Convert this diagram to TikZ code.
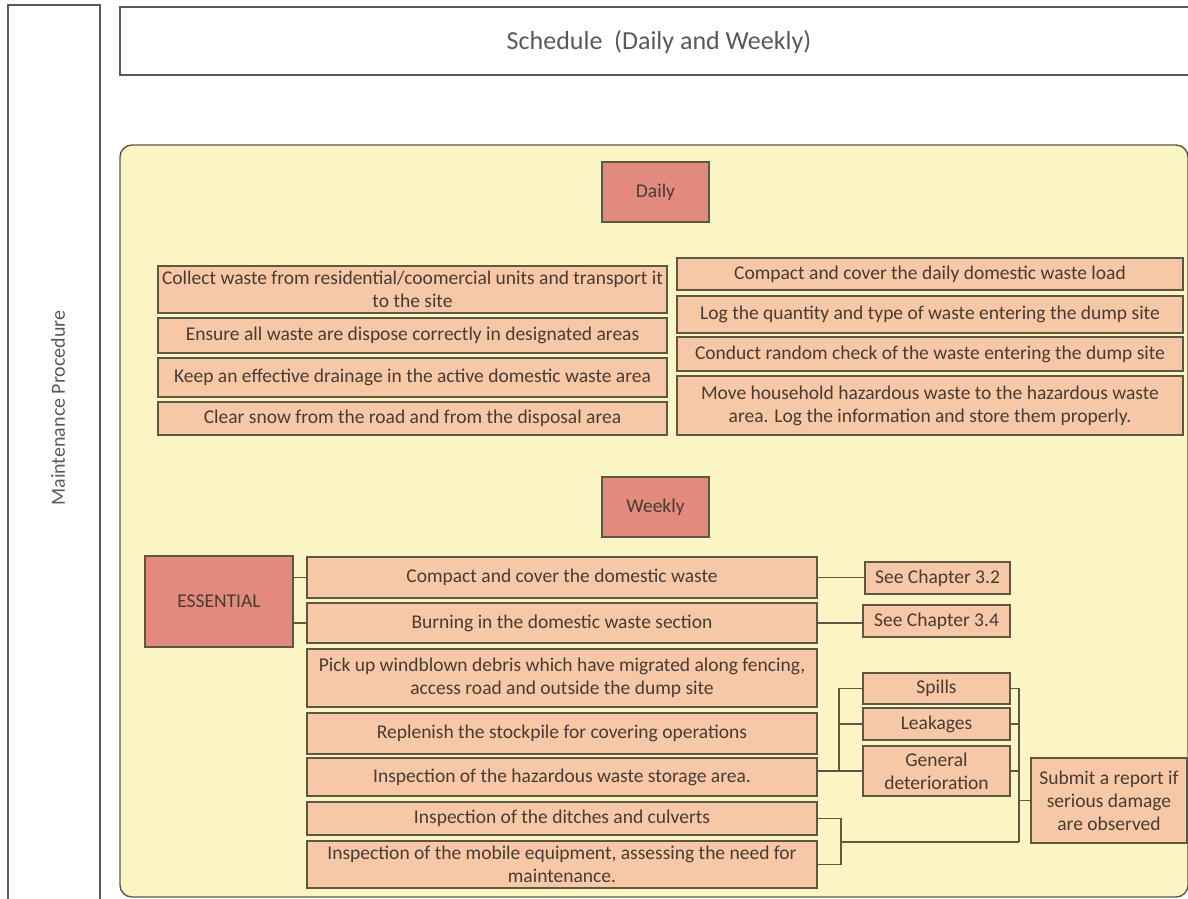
\documentclass[tikz,border=0pt]{standalone}
\usepackage{fontspec}
\setmainfont{Carlito}
\definecolor{panelfill}{HTML}{FBF5C6}
\definecolor{taskfill}{HTML}{F6C8A8}
\definecolor{headfill}{HTML}{E28A7E}
\definecolor{boxline}{HTML}{5E5843}
\definecolor{inktext}{HTML}{4A3B31}
\tikzset{
  task/.style={draw=boxline, line width=1.4pt, fill=taskfill, text=inktext, align=center, inner sep=0pt, font=\fontsize{19.5}{23}\selectfont},
  head/.style={draw=boxline, line width=1.4pt, fill=headfill, text=inktext, align=center, inner sep=0pt, font=\fontsize{19.5}{23}\selectfont},
  link/.style={draw=boxline, line width=1.4pt},
}
\begin{document}
\begin{tikzpicture}[x=1pt, y=-1pt]
  \useasboundingbox (0,0) rectangle (1188,898);
  % 1. frames
  \draw[gray!70!black, line width=1.2pt] (8,5) rectangle (100,905);
  \node[rotate=90, text=black!65, font=\fontsize{20}{24}\selectfont] (proc) at (58,408) {Maintenance Procedure};
  \draw[gray!70!black, line width=1.2pt] (120,7) rectangle (1200,75);
  \node[text=black!65, font=\fontsize{26}{30}\selectfont] (sched) at (659,42) {Schedule~~(Daily and Weekly)};
  \draw[boxline, line width=1.4pt, fill=panelfill, rounded corners=12pt] (120,145) rectangle (1188,897);

  % 2. daily
  \node[head, minimum width=107pt, minimum height=60pt] (daily) at (655.5,192) {Daily};
  \node[task, minimum width=509pt, minimum height=47pt] (d1) at (412.5,289.5) {Collect waste from residential/coomercial units and transport it\\to the site};
  \node[task, minimum width=509pt, minimum height=35pt] (d2) at (412.5,335.5) {Ensure all waste are dispose correctly in designated areas};
  \node[task, minimum width=509pt, minimum height=39pt] (d3) at (412.5,377.5) {Keep an effective drainage in the active domestic waste area};
  \node[task, minimum width=509pt, minimum height=33pt] (d4) at (412.5,418.5) {Clear snow from the road and from the disposal area};
  \node[task, minimum width=506pt, minimum height=32pt] (r1) at (930,274) {Compact and cover the daily domestic waste load};
  \node[task, minimum width=506pt, minimum height=37pt] (r2) at (930,314.5) {Log the quantity and type of waste entering the dump site};
  \node[task, minimum width=506pt, minimum height=34pt] (r3) at (930,354) {Conduct random check of the waste entering the dump site};
  \node[task, minimum width=506pt, minimum height=59pt] (r4) at (930,405.5) {Move household hazardous waste to the hazardous waste\\area. Log the information and store them properly.};

  % 3. weekly
  \node[head, minimum width=107pt, minimum height=60pt] (weekly) at (655.5,507) {Weekly};
  \node[head, minimum width=148pt, minimum height=91pt] (ess) at (219,601.5) {ESSENTIAL};
  \node[task, minimum width=510pt, minimum height=41pt] (w1) at (562,577.5) {Compact and cover the domestic waste};
  \node[task, minimum width=510pt, minimum height=40pt] (w2) at (562,623) {Burning in the domestic waste section};
  \node[task, minimum width=510pt, minimum height=58pt] (w3) at (562,678) {Pick up windblown debris which have migrated along fencing,\\access road and outside the dump site};
  \node[task, minimum width=510pt, minimum height=41pt] (w4) at (562,733.5) {Replenish the stockpile for covering operations};
  \node[task, minimum width=510pt, minimum height=38pt] (w5) at (562,777) {Inspection of the hazardous waste storage area.};
  \node[task, minimum width=510pt, minimum height=33pt] (w6) at (562,818.5) {Inspection of the ditches and culverts};
  \node[task, minimum width=510pt, minimum height=47pt] (w7) at (562,864.5) {Inspection of the mobile equipment, assessing the need for\\maintenance.};

  \node[task, minimum width=145pt, minimum height=32pt] (ch32) at (937.5,578) {See Chapter 3.2};
  \node[task, minimum width=147pt, minimum height=32pt] (ch34) at (936.5,621) {See Chapter 3.4};
  \node[task, minimum width=147pt, minimum height=31pt] (spills) at (936.5,688.5) {Spills};
  \node[task, minimum width=147pt, minimum height=32pt] (leak) at (936.5,724) {Leakages};
  \node[task, minimum width=147pt, minimum height=50pt] (gen) at (936.5,771) {General\\deterioration};
  \node[task, minimum width=156pt, minimum height=85pt] (report) at (1109,800.5) {Submit a report if\\serious damage\\are observed};

  % 4. connectors
  \coordinate (jL) at (839,771);
  \coordinate (jR) at (1019,771);
  \coordinate (jB) at (841,842);
  \draw[link] (w1.west -| ess.east) -- (w1.west);
  \draw[link] (w2.west -| ess.east) -- (w2.west);
  \draw[link] (w1.east) -- (w1.east -| ch32.west);
  \draw[link] (w2.east) -- (w2.east -| ch34.west);
  \draw[link] (gen.west -| w5.east) -- (gen.west);
  \draw[link] (spills.west) -| (jL);
  \draw[link] (leak.west) -- (leak.west -| jL);
  \draw[link] (spills.east) -| (jB -| jR);
  \draw[link] (leak.east) -- (leak.east -| jR);
  \draw[link] (gen.east) -- (gen.east -| jR);
  \draw[link] (report.west -| jR) -- (report.west);
  \draw[link] (w6.east) -| (jB) |- (w7.east);
  \draw[link] (jB) -- (jB -| jR);
\end{tikzpicture}
\end{document}
